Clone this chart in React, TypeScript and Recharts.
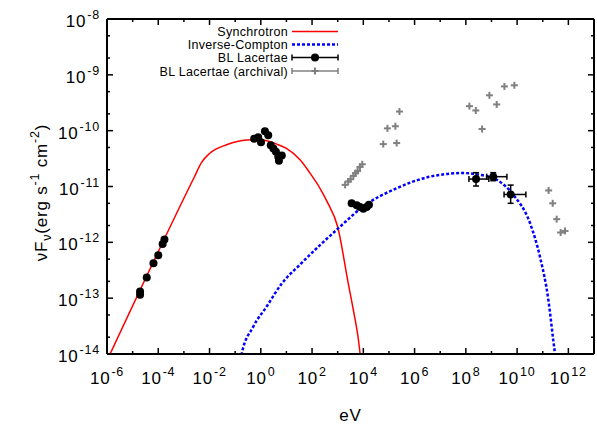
import React from 'react';
import { ComposedChart, Line, Scatter, XAxis, YAxis, ErrorBar, Legend } from 'recharts';

// ---------- data ----------
const seriesNames = ['Synchrotron', 'Inverse-Compton', 'BL Lacertae', 'BL Lacertae (archival)'];
const seriesColors = ['#ff0000', '#0000ff', '#000000', '#808080'];

const syncEnergy = [1e-6, 2.5e-3, 4.9e-3, 1e-2, 4.7e-2, 0.28, 1.0, 4.2, 10, 34, 83, 204, 400, 1000, 2570, 4070, 6460, 7940];
const syncFlux = [7.6e-15, 1.45e-11, 2.7e-11, 3.9e-11, 5.6e-11, 6.8e-11, 6.9e-11, 5.75e-11, 4.8e-11, 3.0e-11, 1.74e-11, 9.3e-12, 5.2e-12, 1.9e-12, 1.86e-13, 6.2e-14, 1.78e-14, 7.9e-15];

const icEnergy = [0.158, 0.18, 0.51, 1.7, 6.3, 34, 204, 1230, 1e4, 2e5, 4e6, 7.9e7, 3.5e8, 1.6e9, 7.1e9, 3.2e10, 7.8e10, 1.66e11, 2.57e11, 3.0e11, 3.3e11];
const icFlux = [6.3e-15, 1e-14, 3.1e-14, 7.1e-14, 1.78e-13, 4.0e-13, 8.9e-13, 1.9e-12, 4.4e-12, 9.3e-12, 1.5e-11, 1.74e-11, 1.62e-11, 1.32e-11, 7.1e-12, 2.2e-12, 5.5e-13, 9.3e-14, 1.78e-14, 1e-14, 6.3e-15];

const blLacEnergy = [1.95e-5, 1.95e-5, 3.55e-5, 6.5e-5, 1.0e-4, 1.48e-4, 1.74e-4,
  0.55, 0.79, 1.02, 1.45, 1.95, 2.45, 3.1, 3.9, 4.8, 6.6, 5.1,
  3.5e3, 5.5e3, 7.4e3, 1.0e4, 1.35e4, 1.66e4];
const blLacFlux = [1.15e-13, 1.32e-13, 2.34e-13, 4.2e-13, 5.9e-13, 9.3e-13, 1.12e-12,
  7.2e-11, 7.6e-11, 6.2e-11, 9.8e-11, 8.3e-11, 5.5e-11, 4.8e-11, 4.2e-11, 3.4e-11, 3.6e-11, 2.9e-11,
  5.0e-12, 4.6e-12, 4.3e-12, 4.0e-12, 4.3e-12, 4.7e-12];

const gammaEnergy = [2.5e8, 1.17e9, 5.6e9];
const gammaEnergyMin = [1.32e8, 6.5e8, 3.1e9];
const gammaEnergyMax = [7.9e8, 4.0e9, 2.2e10];
const gammaFlux = [1.36e-11, 1.5e-11, 7.2e-12];
const gammaFluxMin = [1.02e-11, 1.27e-11, 5.0e-12];
const gammaFluxMax = [1.77e-11, 1.77e-11, 1.06e-11];

const archivalEnergy = [1.95e3, 2.57e3, 3.2e3, 4.1e3, 5.0e3, 6.0e3, 7.4e3, 9.1e3,
  6.0e4, 8.7e4, 1.78e5, 2.57e5, 2.0e5,
  1.38e8, 2.45e8, 4.3e8, 8.3e8, 1.6e9, 3.2e9, 7.8e9,
  1.7e11, 2.45e11, 3.5e11, 5.0e11, 7.4e11];
const archivalFlux = [1.07e-11, 1.23e-11, 1.35e-11, 1.55e-11, 1.74e-11, 1.9e-11, 2.24e-11, 2.5e-11,
  5.75e-11, 1.1e-10, 1.2e-10, 2.2e-10, 6.0e-11,
  2.75e-10, 2.3e-10, 1.07e-10, 4.3e-10, 2.95e-10, 6.2e-10, 6.5e-10,
  8.5e-12, 5.0e-12, 2.6e-12, 1.5e-12, 1.6e-12];

const xMajorTicks = [1e-6, 1e-4, 1e-2, 1e0, 1e2, 1e4, 1e6, 1e8, 1e10, 1e12];
const xMinorTicks = [1e-5, 1e-3, 1e-1, 1e1, 1e3, 1e5, 1e7, 1e9, 1e11];
const yMajorTicks = [1e-14, 1e-13, 1e-12, 1e-11, 1e-10, 1e-9, 1e-8];
const yMinorFactors = [2, 5];
const xDomain = [1e-6, 1e13];
const yDomain = [1e-14, 1e-8];

const xLabel = 'eV';

// ---------- tables ----------
const toRows = (xs: number[], ys: number[]) => xs.map((x, i) => ({ x, y: ys[i] }));
const syncRows = toRows(syncEnergy, syncFlux);
const icRows = toRows(icEnergy, icFlux);
const blLacRows = toRows(blLacEnergy, blLacFlux);
const archivalRows = toRows(archivalEnergy, archivalFlux);
const gammaRows = gammaEnergy.map((x, i) => ({
  x,
  y: gammaFlux[i],
  ex: [x - gammaEnergyMin[i], gammaEnergyMax[i] - x],
  ey: [gammaFlux[i] - gammaFluxMin[i], gammaFluxMax[i] - gammaFlux[i]],
}));

const yMinorTicks: number[] = [];
yMajorTicks.slice(0, -1).forEach((t) => yMinorFactors.forEach((f) => yMinorTicks.push(t * f)));
const xTicks = [...xMajorTicks, ...xMinorTicks].sort((a, b) => a - b);
const yTicks = [...yMajorTicks, ...yMinorTicks].sort((a, b) => a - b);

const FONT = '"Liberation Sans", Arial, Helvetica, sans-serif';
const isMajor = (v: number, list: number[]) => list.some((t) => Math.abs(Math.log10(v) - Math.log10(t)) < 1e-6);
const expOf = (v: number) => Math.round(Math.log10(v));

const MAJ = 6;
const MIN = 3;

const BottomTick = (props: any) => {
  const { x, y, payload } = props;
  const major = isMajor(payload.value, xMajorTicks);
  return (
    <g>
      <line x1={x} x2={x} y1={y} y2={y - (major ? MAJ : MIN)} stroke="#000" strokeWidth={1.5} />
      {major && (
        <text x={x} y={y + 30} textAnchor="middle" fontFamily={FONT} fontSize={17} fill="#000" letterSpacing={0.8}>
          10<tspan dy={-8} dx={1} fontSize={12.5}>{String(expOf(payload.value))}</tspan>
        </text>
      )}
    </g>
  );
};

const TopTick = (props: any) => {
  const { x, y, payload } = props;
  const major = isMajor(payload.value, xMajorTicks);
  return <line x1={x} x2={x} y1={y} y2={y + (major ? MAJ : MIN)} stroke="#000" strokeWidth={1.5} />;
};

const LeftTick = (props: any) => {
  const { x, y, payload } = props;
  const major = isMajor(payload.value, yMajorTicks);
  return (
    <g>
      <line x1={x} x2={x + (major ? MAJ : MIN)} y1={y} y2={y} stroke="#000" strokeWidth={1.5} />
      {major && (
        <text x={x - 7} y={y + 8} textAnchor="end" fontFamily={FONT} fontSize={17} fill="#000" letterSpacing={0.8}>
          10<tspan dy={-8} dx={1} fontSize={12.5}>{String(expOf(payload.value))}</tspan>
        </text>
      )}
    </g>
  );
};

const RightTick = (props: any) => {
  const { x, y, payload } = props;
  const major = isMajor(payload.value, yMajorTicks);
  return <line x1={x} x2={x - (major ? MAJ : MIN)} y1={y} y2={y} stroke="#000" strokeWidth={1.5} />;
};

const YTitle = (props: any) => {
  const vb = props.viewBox || { x: 0, y: 19, width: 107, height: 335 };
  const cx = vb.x + 47;
  const cy = vb.y + vb.height / 2 + 6;
  return (
    <text x={cx} y={cy} transform={`rotate(-90, ${cx}, ${cy})`} textAnchor="middle" fontFamily={FONT} fontSize={17} fill="#000" letterSpacing={0.8}>
      νF<tspan dy={4} fontSize={12.5}>ν</tspan>
      <tspan dy={-4}>(erg s</tspan>
      <tspan dy={-8} fontSize={12.5}>-1</tspan>
      <tspan dy={8}> cm</tspan>
      <tspan dy={-8} fontSize={12.5}>-2</tspan>
      <tspan dy={8}>)</tspan>
    </text>
  );
};

const XTitle = (props: any) => {
  const vb = props.viewBox || { x: 107, y: 354, width: 487, height: 74 };
  return (
    <text x={vb.x + vb.width / 2} y={vb.y + 67} textAnchor="middle" fontFamily={FONT} fontSize={17} fill="#000" letterSpacing={0.8}>
      {xLabel}
    </text>
  );
};

const PlusShape = (p: any) => (
  <g>
    <line x1={p.cx - 3.5} x2={p.cx + 3.5} y1={p.cy} y2={p.cy} stroke="#808080" strokeWidth={2} />
    <line x1={p.cx} x2={p.cx} y1={p.cy - 3.5} y2={p.cy + 3.5} stroke="#808080" strokeWidth={2} />
  </g>
);

const DotShape = (p: any) => <circle cx={p.cx} cy={p.cy} r={4} fill="#000" />;

const LegendBox = () => {
  const textX = 288;
  const x0 = 292;
  const x1 = 338;
  const rows = [31.5, 44.5, 57.5, 71];
  return (
    <svg width={597} height={100} style={{ position: 'absolute', left: 0, top: 0, overflow: 'visible' }}>
      {seriesNames.map((name, i) => {
        const y = rows[i];
        const c = seriesColors[i];
        const mid = (x0 + x1) / 2;
        return (
          <g key={name}>
            <text x={textX} y={y + 4.5} textAnchor="end" fontFamily={FONT} fontSize={12.5} fill="#000" letterSpacing={0.3}>
              {name}
            </text>
            {i === 0 && <line x1={x0} x2={x1} y1={y} y2={y} stroke={c} strokeWidth={1.5} />}
            {i === 1 && <line x1={x0} x2={x1} y1={y} y2={y} stroke={c} strokeWidth={2.5} strokeDasharray="3 2" />}
            {i >= 2 && (
              <g>
                <line x1={x0} x2={x1} y1={y} y2={y} stroke={c} strokeWidth={1.5} />
                <line x1={x0} x2={x0} y1={y - 3} y2={y + 3} stroke={c} strokeWidth={1.5} />
                <line x1={x1} x2={x1} y1={y - 3} y2={y + 3} stroke={c} strokeWidth={1.5} />
                {i === 2 ? <circle cx={mid} cy={y} r={4} fill={c} /> : <PlusShape cx={mid} cy={y} />}
              </g>
            )}
          </g>
        );
      })}
    </svg>
  );
};

export default function App() {
  return (
    <div style={{ position: 'absolute', left: 0, top: 0, width: 597, height: 428, background: '#fff' }}>
      <ComposedChart width={597} height={428} margin={{ top: 0, right: 0, bottom: 0, left: 0 }}>
        <XAxis
          xAxisId="bottom"
          orientation="bottom"
          type="number"
          dataKey="x"
          scale="log"
          domain={xDomain}
          allowDataOverflow
          ticks={xTicks}
          interval={0}
          tick={<BottomTick />}
          tickLine={false}
          tickSize={0}
          tickMargin={0}
          height={74}
          axisLine={{ stroke: '#000', strokeWidth: 2 }}
          label={<XTitle />}
        />
        <XAxis
          xAxisId="top"
          orientation="top"
          type="number"
          dataKey="x"
          scale="log"
          domain={xDomain}
          allowDataOverflow
          ticks={xTicks}
          interval={0}
          tick={<TopTick />}
          tickLine={false}
          tickSize={0}
          tickMargin={0}
          height={19}
          axisLine={{ stroke: '#000', strokeWidth: 2 }}
        />
        <YAxis
          yAxisId="left"
          orientation="left"
          type="number"
          dataKey="y"
          scale="log"
          domain={yDomain}
          allowDataOverflow
          ticks={yTicks}
          interval={0}
          tick={<LeftTick />}
          tickLine={false}
          tickSize={0}
          tickMargin={0}
          width={107}
          axisLine={{ stroke: '#000', strokeWidth: 2 }}
          label={<YTitle />}
        />
        <YAxis
          yAxisId="right"
          orientation="right"
          type="number"
          dataKey="y"
          scale="log"
          domain={yDomain}
          allowDataOverflow
          ticks={yTicks}
          interval={0}
          tick={<RightTick />}
          tickLine={false}
          tickSize={0}
          tickMargin={0}
          width={3}
          axisLine={{ stroke: '#000', strokeWidth: 2 }}
        />
        <Legend verticalAlign="middle" align="center" wrapperStyle={{ position: 'absolute', left: 0, top: 0, width: 597, height: 0, margin: 0 }} content={() => <LegendBox />} />
        <Line
          xAxisId="bottom"
          yAxisId="left"
          data={syncRows}
          dataKey="y"
          name={seriesNames[0]}
          type="monotone"
          stroke={seriesColors[0]}
          strokeWidth={1.5}
          dot={false}
          activeDot={false}
          isAnimationActive={false}
        />
        <Line
          xAxisId="bottom"
          yAxisId="left"
          data={icRows}
          dataKey="y"
          name={seriesNames[1]}
          type="monotone"
          stroke={seriesColors[1]}
          strokeWidth={2.5}
          strokeDasharray="3 2"
          dot={false}
          activeDot={false}
          isAnimationActive={false}
        />
        <Scatter
          xAxisId="bottom"
          yAxisId="left"
          data={archivalRows}
          dataKey="y"
          name={seriesNames[3]}
          fill={seriesColors[3]}
          shape={PlusShape}
          isAnimationActive={false}
        />
        <Scatter
          xAxisId="bottom"
          yAxisId="left"
          data={blLacRows}
          dataKey="y"
          name={seriesNames[2]}
          fill={seriesColors[2]}
          shape={DotShape}
          isAnimationActive={false}
        />
        <Scatter
          xAxisId="bottom"
          yAxisId="left"
          data={gammaRows}
          dataKey="y"
          name={seriesNames[2] + ' gamma'}
          fill={seriesColors[2]}
          shape={DotShape}
          isAnimationActive={false}
        >
          <ErrorBar dataKey="ex" direction="x" width={3} stroke="#000" strokeWidth={1.5} />
          <ErrorBar dataKey="ey" direction="y" width={3} stroke="#000" strokeWidth={1.5} />
        </Scatter>
      </ComposedChart>
    </div>
  );
}
